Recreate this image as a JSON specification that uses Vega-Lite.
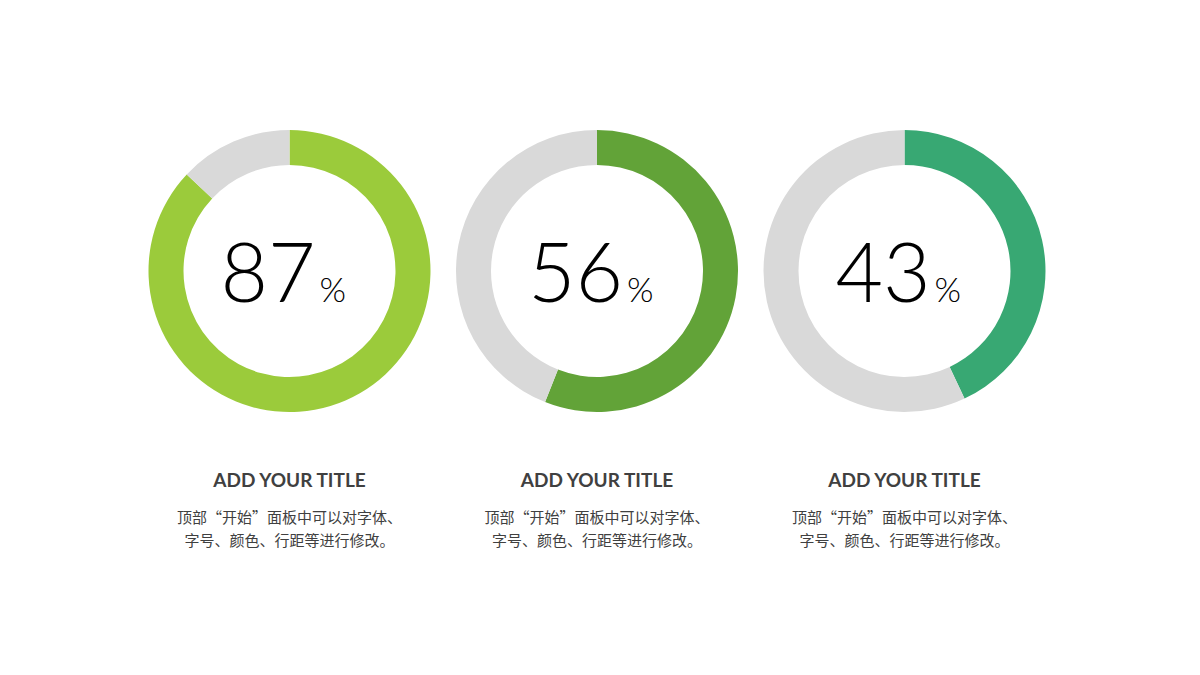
{
  "$schema": "https://vega.github.io/schema/vega-lite/v6.json",
  "width": 1200,
  "height": 542,
  "autosize": {"type": "none"},
  "padding": {"left": 0, "top": 0, "right": 0, "bottom": 133},
  "background": "white",
  "config": {"view": {"stroke": null}},
  "datasets": {
    "rings": [
      {"item": "A", "seg": "A", "start": 0, "end": 87},
      {"item": "A", "seg": "rest", "start": 87, "end": 100},
      {"item": "B", "seg": "B", "start": 0, "end": 56},
      {"item": "B", "seg": "rest", "start": 56, "end": 100},
      {"item": "C", "seg": "C", "start": 0, "end": 43},
      {"item": "C", "seg": "rest", "start": 43, "end": 100}
    ],
    "labels": [
      {"item": "A", "pct": "87", "title": "ADD YOUR TITLE", "desc": ["顶部“开始”面板中可以对字体、", "字号、颜色、行距等进行修改。"]},
      {"item": "B", "pct": "56", "title": "ADD YOUR TITLE", "desc": ["顶部“开始”面板中可以对字体、", "字号、颜色、行距等进行修改。"]},
      {"item": "C", "pct": "43", "title": "ADD YOUR TITLE", "desc": ["顶部“开始”面板中可以对字体、", "字号、颜色、行距等进行修改。"]}
    ]
  },
  "encoding": {
    "x": {
      "field": "item",
      "type": "nominal",
      "scale": {"type": "point", "range": [289.5, 904.5], "padding": 0},
      "axis": null
    }
  },
  "layer": [
    {
      "data": {"name": "rings"},
      "mark": {"type": "arc", "outerRadius": 141, "innerRadius": 106},
      "encoding": {
        "theta": {"field": "start", "type": "quantitative", "scale": {"domain": [0, 100]}},
        "theta2": {"field": "end"},
        "color": {
          "field": "seg",
          "type": "nominal",
          "scale": {"domain": ["A", "B", "C", "rest"], "range": ["#9BCB3B", "#62A338", "#38A873", "#D9D9D9"]},
          "legend": null
        }
      }
    },
    {
      "data": {"name": "labels"},
      "mark": {"type": "text", "align": "right", "baseline": "alphabetic", "dx": 26, "dy": 31, "fontSize": 82, "font": "Lato", "fontWeight": 300, "color": "#000000"},
      "encoding": {"text": {"field": "pct"}}
    },
    {
      "data": {"name": "labels"},
      "mark": {"type": "text", "align": "left", "baseline": "alphabetic", "dx": 30, "dy": 31, "fontSize": 34, "font": "Lato", "fontWeight": 300, "color": "#000000", "text": "%"},
      "encoding": {}
    },
    {
      "data": {"name": "labels"},
      "mark": {"type": "text", "align": "center", "baseline": "middle", "dy": 210, "fontSize": 19, "font": "Lato", "fontWeight": "bold", "color": "#404040"},
      "encoding": {"text": {"field": "title"}}
    },
    {
      "data": {"name": "labels"},
      "mark": {"type": "text", "align": "center", "baseline": "middle", "dy": 247, "lineHeight": 23, "fontSize": 15, "font": "Noto Sans CJK SC", "color": "#404040"},
      "encoding": {"text": {"field": "desc"}}
    }
  ]
}
